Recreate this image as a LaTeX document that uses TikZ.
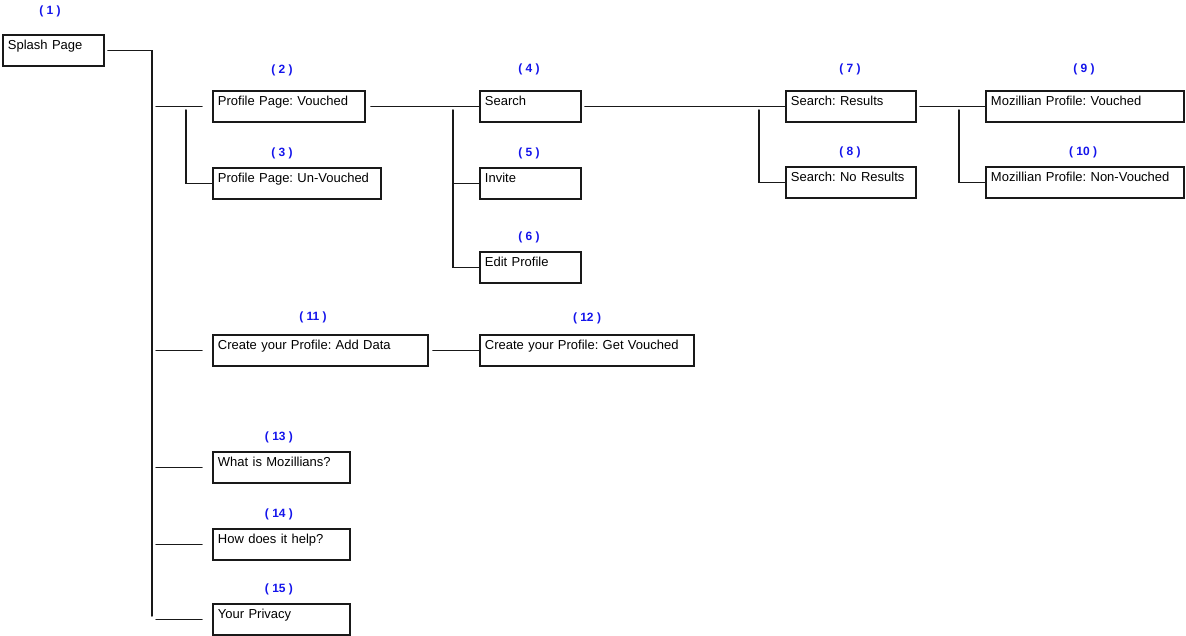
\documentclass[tikz,border=0pt]{standalone}
\usepackage{fontspec}
\setmainfont{Liberation Sans}
\frenchspacing
\definecolor{numblue}{RGB}{20,20,235}
\begin{document}
\begin{tikzpicture}[x=1pt,y=-1pt,
  page/.style={draw=black!90, line width=1.9pt, rectangle, anchor=north west,
    inner xsep=5pt, inner ysep=0pt, minimum height=31pt,
    text height=14.5pt, text depth=16.5pt, align=left,
    font=\fontsize{13}{15}\selectfont},
  num/.style={text=numblue, font=\fontsize{12}{14}\selectfont\bfseries, inner sep=0pt},
  conn/.style={draw=black!90, line width=1.5pt, line cap=round}]
\useasboundingbox (0,0) rectangle (1186,636);
% pages
\node[page, text width=91pt]  (n1)  at (2,34)    {Splash Page};
\node[page, text width=142pt] (n2)  at (212,90)  {Profile Page: Vouched};
\node[page, text width=158pt] (n3)  at (212,167) {Profile Page: Un-Vouched};
\node[page, text width=91pt]  (n4)  at (479,90)  {Search};
\node[page, text width=91pt]  (n5)  at (479,167) {Invite};
\node[page, text width=91pt]  (n6)  at (479,251) {Edit Profile};
\node[page, text width=120pt] (n7)  at (785,90)  {Search: Results};
\node[page, text width=120pt] (n8)  at (785,166) {Search: No Results};
\node[page, text width=188pt] (n9)  at (985,90)  {Mozillian Profile: Vouched};
\node[page, text width=188pt] (n10) at (985,166) {Mozillian Profile: Non-Vouched};
\node[page, text width=205pt] (n11) at (212,334) {Create your Profile: Add Data};
\node[page, text width=204pt] (n12) at (479,334) {Create your Profile: Get Vouched};
\node[page, text width=127pt] (n13) at (212,451) {What is Mozillians?};
\node[page, text width=127pt] (n14) at (212,528) {How does it help?};
\node[page, text width=127pt] (n15) at (212,603) {Your Privacy};
% numbers
\node[num] (l1)  at (50,11)    {( 1 )};
\node[num] (l2)  at (282,70)   {( 2 )};
\node[num] (l3)  at (282,153)  {( 3 )};
\node[num] (l4)  at (529,69)   {( 4 )};
\node[num] (l5)  at (529,153)  {( 5 )};
\node[num] (l6)  at (529,237)  {( 6 )};
\node[num] (l7)  at (850,69)   {( 7 )};
\node[num] (l8)  at (850,152)  {( 8 )};
\node[num] (l9)  at (1084,69)  {( 9 )};
\node[num] (l10) at (1083,152) {( 10 )};
\node[num] (l11) at (313,317)  {( 11 )};
\node[num] (l12) at (587,318)  {( 12 )};
\node[num] (l13) at (279,437)  {( 13 )};
\node[num] (l14) at (279,514)  {( 14 )};
\node[num] (l15) at (279,589)  {( 15 )};
% trunk
\coordinate (trtop) at (152,49.5);
\coordinate (trbot) at (152,616);
\draw[conn, shorten <=3pt] (n1.east) -- (n1.east -| trtop) -- (trbot);
\foreach \n in {n2,n11,n13,n14,n15}
  \draw[conn, shorten <=4pt, shorten >=10pt] (\n.west -| trtop) -- (\n.west);
% profile vouched / unvouched
\coordinate (b2) at (186,110);
\draw[conn] (b2) |- (n3.west);
% search group
\draw[conn, shorten <=5pt] (n2.east) -- (n4.west);
\coordinate (b4) at (453,110);
\draw[conn] (b4) |- (n6.west);
\draw[conn] (b4 |- n5.west) -- (n5.west);
% results
\draw[conn, shorten <=3pt] (n4.east) -- (n7.west);
\coordinate (b7) at (759,110);
\draw[conn] (b7) |- (n8.west);
% mozillian profile
\draw[conn, shorten <=3pt] (n7.east) -- (n9.west);
\coordinate (b9) at (959,110);
\draw[conn] (b9) |- (n10.west);
% create profile
\draw[conn, shorten <=4pt] (n11.east) -- (n12.west);
\end{tikzpicture}
\end{document}
